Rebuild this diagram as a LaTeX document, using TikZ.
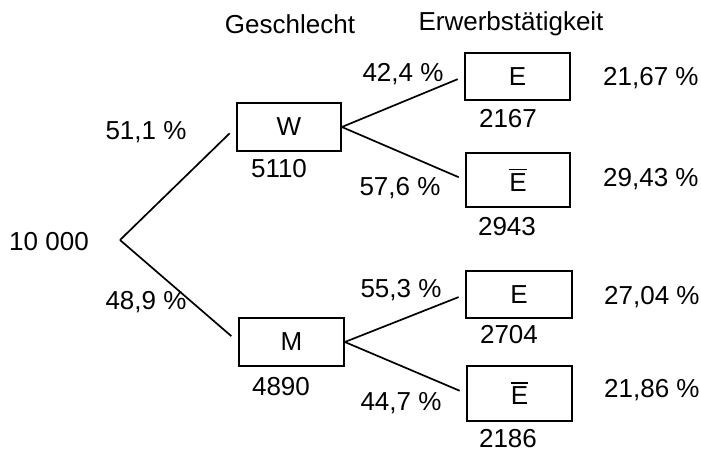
\documentclass[tikz,border=0pt]{standalone}
\usepackage{fontspec}
\setmainfont{Liberation Sans}
\newcommand{\Ebar}{{\setbox0\hbox{E}\rlap{\rule[\dimexpr\ht0+3pt\relax]{\wd0}{1.3pt}}E}}
\begin{document}
\begin{tikzpicture}[x=1pt,y=-1pt,
  every node/.style={font=\fontsize{26}{30}\selectfont, inner sep=0pt},
  box/.style={draw, line width=1.7pt, minimum width=105pt, minimum height=48pt},
  lbl/.style={anchor=base},
  lblw/.style={anchor=base west},
  edge/.style={line width=1.7pt, shorten >=7pt}]
\useasboundingbox (0,0) rectangle (701,450);
% headers
\node[lbl] (hg) at (290,33) {Geschlecht};
\node[lbl] (he) at (511,30) {Erwerbstätigkeit};
% root
\node[lbl] (root) at (49,250) {10 000};
\coordinate (r) at (120,240);
% level 1
\node[box, minimum width=104pt] (W) at (289,127) {W};
\node[box] (M) at (291.5,342) {M};
% level 2
\node[box, minimum height=47pt] (E1) at (517.5,76.5) {E};
\node[box, minimum width=104pt, minimum height=54pt] (Eb1) at (518,180) {\Ebar};
\node[box, minimum width=106pt, minimum height=47pt] (E2) at (519,294.5) {E};
\node[box, minimum height=55pt] (Eb2) at (519.5,393.5) {\Ebar};
% connectors
\draw[edge, shorten >=9pt] (r) -- (W.west);
\draw[edge, shorten >=9pt] (r) -- (M.west);
\draw[edge] (W.east) -- (E1.west);
\draw[edge] (W.east) -- (Eb1.west);
\draw[edge] (M.east) -- (E2.west);
\draw[edge] (M.east) -- (Eb2.west);
% percentages level 1
\node[lbl] (p1) at (146,139) {51,1 \%};
\node[lbl] (p2) at (146,309) {48,9 \%};
% counts level 1
\node[lbl] (n1) at (279,177) {5110};
\node[lbl] (n2) at (281,395) {4890};
% percentages level 2
\node[lbl] (p3) at (403,81) {42,4 \%};
\node[lbl] (p4) at (400,195) {57,6 \%};
\node[lbl] (p5) at (401,297) {55,3 \%};
\node[lbl] (p6) at (401,410) {44,7 \%};
% counts level 2
\node[lbl] (n3) at (508,127) {2167};
\node[lbl] (n4) at (507,235) {2943};
\node[lbl] (n5) at (509,343) {2704};
\node[lbl] (n6) at (508,447) {2186};
% joint percentages
\node[lblw] (q1) at (603,85) {21,67 \%};
\node[lblw] (q2) at (603,186) {29,43 \%};
\node[lblw] (q3) at (604,304) {27,04 \%};
\node[lblw] (q4) at (604,397) {21,86 \%};
\end{tikzpicture}
\end{document}
